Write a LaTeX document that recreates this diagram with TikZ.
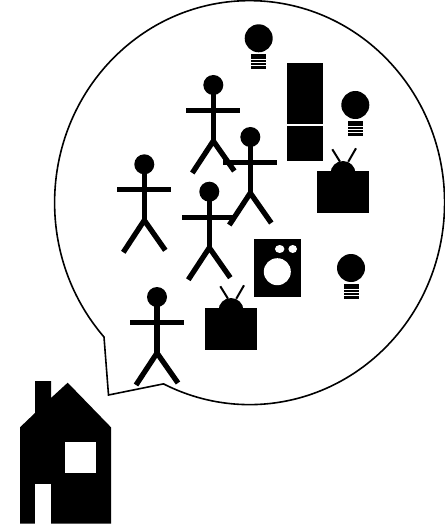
\documentclass[tikz,border=0pt]{standalone}
\usepackage{tikz}
\tikzset{
  limb/.style = {line width=5.3pt},
  person/.pic = {
    \fill (0,0) circle[radius=10pt];
    \draw[limb] (0,0) -- (0,56) (-27,25.5) -- (27,25.5);
    \draw[limb] (-21,88) -- (0,56) -- (21,86);
  },
  bulb/.pic = {
    \fill (0,0) circle[radius=14pt];
    \fill (-7.5,16) rectangle (7.5,31);
    \foreach \y in {21,24,27} \fill[white] (-7.5,\y) rectangle (7.5,\y+1);
  },
  telly/.pic = {
    \fill (0,0) rectangle (52,42);
    \fill (26,2.5) circle[radius=12.5pt];
    \draw[line width=2pt] (15.3,-21.7) -- (23,-9.3) (39,-22.7) -- (31.3,-9.3);
  }
}
\begin{document}
\begin{tikzpicture}[x=1pt, y=-1pt]
\useasboundingbox (0,0) rectangle (444,526);

% speech bubble
\draw[line width=1.6pt] (104,337) arc[start angle=221.7, end angle=-116.2, x radius=195pt, y radius=202pt] -- (108.5,395) -- cycle;

% house
\fill (20,523.7) -- (20,427.3) -- (35,413) -- (35,381) -- (51,381) -- (51,398) -- (67.7,382.7) -- (111,427.3) -- (111,523.7) -- cycle;
\fill[white] (65,442) rectangle (96,473);
\fill[white] (35,483.7) rectangle (51,523.7);

% people
\pic at (213.3,85) {person};
\pic at (250.3,137) {person};
\pic at (144.3,164.3) {person};
\pic at (209.3,191.7) {person};
\pic at (157,297) {person};

% lamps
\pic at (258.7,38.3) {bulb};
\pic at (355.3,105) {bulb};
\pic at (351,268) {bulb};

% fridge
\fill (287,63) rectangle (323,124);
\fill (287,126) rectangle (323,161);

% tv sets
\pic at (317,171) {telly};
\pic at (205,308) {telly};

% washing machine
\fill (254,239) rectangle (301,296.7);
\fill[white] (277.3,271.7) circle[radius=13.5pt];
\fill[white] (279.7,249) ellipse[x radius=4.7pt, y radius=4pt];
\fill[white] (292.7,249) ellipse[x radius=4.3pt, y radius=4pt];
\end{tikzpicture}
\end{document}
